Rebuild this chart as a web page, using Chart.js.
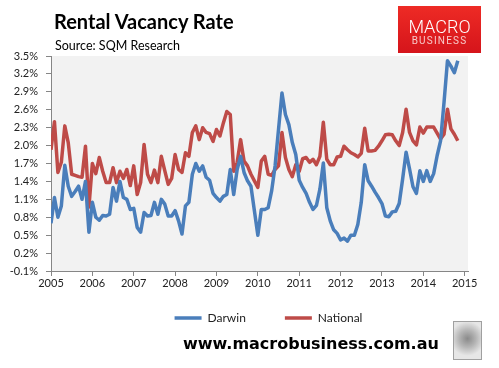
<!DOCTYPE html>
<html>
<head>
<meta charset="utf-8">
<script src="https://cdn.jsdelivr.net/npm/chart.js@4.4.1/dist/chart.umd.min.js"></script>
<style>
  html, body { margin: 0; padding: 0; background: #fff; width: 499px; height: 368px; overflow: hidden; }
  #wrap { position: relative; width: 499px; height: 368px; }
  #chart-box { position: absolute; left: 0; top: 0; width: 499px; height: 368px; }
  .title { position: absolute; left: 54px; top: 9px; font: bold 20px Lato, sans-serif; color: #000; white-space: nowrap; }
  .source { position: absolute; left: 55px; top: 38px; font: 12.5px Lato, sans-serif; color: #000; white-space: nowrap; }
  #logo { position: absolute; left: 398px; top: 6px; width: 83px; height: 47px;
          background: linear-gradient(#ee2b25, #d5141b); text-align: center; }
  #logo .m { position: absolute; left: 0; width: 83px; top: 10px; font: 300 18px Roboto, sans-serif; color: #fff; letter-spacing: 0; }
  #logo .b { position: absolute; left: 0; width: 83px; top: 29px; font: 10px Roboto, sans-serif; color: #f7c9c9; letter-spacing: 1.2px; }
  .url { position: absolute; left: 183px; top: 334px; font: bold 16px "DejaVu Sans", sans-serif; color: #000; white-space: nowrap; }
  #wolf { position: absolute; left: 453px; top: 321px; width: 27px; height: 37px; border: 1px solid #a0a0a0;
          background: radial-gradient(circle at 50% 45%, #8a8a8a 0, #b5b5b5 35%, #e6e6e6 70%); }
</style>
</head>
<body>
<div id="wrap">
  <div id="chart-box"><canvas id="chart"></canvas></div>
  <div class="title">Rental Vacancy Rate</div>
  <div class="source">Source: SQM Research</div>
  <div id="logo"><div class="m">MACRO</div><div class="b">BUSINESS</div></div>
  <div class="url">www.macrobusiness.com.au</div>
  <div id="wolf"></div>
</div>
<script>
// Monthly vacancy rates (%), Jan 2005 onwards.
var startYear = 2005;

var darwin = [
  0.70, 1.13, 0.80, 0.99, 1.67, 1.32, 1.15, 1.23, 1.32, 1.10, 1.40, 0.55,
  1.05, 0.80, 0.75, 0.83, 0.82, 0.85, 1.30, 1.07, 1.40, 1.13, 1.10, 0.93,
  0.95, 0.63, 0.55, 0.88, 0.82, 0.83, 1.05, 0.85, 1.10, 1.02, 0.82, 0.82,
  0.91, 0.74, 0.52, 0.99, 1.05, 1.52, 1.70, 1.57, 1.66, 1.47, 1.42, 1.20,
  1.13, 1.07, 1.15, 1.18, 1.60, 1.18, 1.60, 1.82, 1.55, 1.41, 1.32, 0.91,
  0.50, 0.93, 0.93, 0.96, 1.24, 1.66, 2.27, 2.88, 2.52, 2.35, 2.05, 1.85,
  1.42, 1.30, 1.20, 1.05, 0.93, 1.00, 1.27, 1.71, 0.96, 0.74, 0.59, 0.53,
  0.42, 0.45, 0.40, 0.50, 0.50, 0.68, 1.05, 1.68, 1.41, 1.32, 1.22, 1.13,
  1.03, 0.82, 0.81, 0.89, 0.90, 1.03, 1.44, 1.89, 1.61, 1.31, 1.20, 1.58,
  1.40, 1.58, 1.40, 1.53, 1.83, 2.08, 2.72, 3.42, 3.33, 3.22, 3.42
];

var national = [
  1.93, 2.40, 1.55, 1.72, 2.33, 2.05, 1.52, 1.50, 1.48, 1.47, 1.99, 0.97,
  1.70, 1.53, 1.80, 1.57, 1.38, 1.38, 1.63, 1.38, 1.57, 1.45, 1.60, 1.33,
  1.66, 1.18, 1.38, 2.02, 1.52, 1.38, 1.59, 1.38, 1.82, 1.58, 1.35, 1.45,
  1.85, 1.60, 1.55, 1.88, 1.82, 2.22, 2.33, 2.10, 2.30, 2.22, 2.20, 2.07,
  2.27, 2.16, 2.38, 2.57, 2.52, 1.57, 1.72, 2.10, 1.74, 1.66, 1.52, 1.41,
  1.30, 1.74, 1.82, 1.52, 1.50, 1.60, 1.66, 2.22, 1.80, 1.60, 1.48, 1.68,
  1.57, 1.78, 1.80, 1.72, 1.77, 1.68, 1.82, 2.39, 1.77, 1.68, 1.68, 1.81,
  1.82, 1.99, 1.93, 1.88, 1.85, 1.81, 1.87, 2.29, 1.91, 1.91, 1.92, 1.99,
  2.08, 2.18, 2.19, 2.18, 2.08, 2.00, 2.22, 2.61, 2.22, 2.08, 2.01, 2.31,
  2.21, 2.31, 2.31, 2.31, 2.21, 2.11, 2.19, 2.61, 2.28, 2.19, 2.08
];

var yearTicks = [2005, 2006, 2007, 2008, 2009, 2010, 2011, 2012, 2013, 2014, 2015];
var rateTicks = [-0.1, 0.2, 0.5, 0.8, 1.1, 1.4, 1.7, 2.0, 2.3, 2.6, 2.9, 3.2, 3.5];

var seriesNames = ['Darwin', 'National'];
var seriesColors = ['#4a7ebb', '#be4b48'];

function toPoints(values) {
  return values.map(function (v, i) {
    return { x: startYear + i / 12, y: v };
  });
}

// grey plot-area fill, like the Excel chart
var plotBg = {
  id: 'plotBg',
  beforeDraw: function (chart) {
    var a = chart.chartArea;
    var ctx = chart.ctx;
    ctx.save();
    ctx.fillStyle = '#f2f2f2';
    ctx.fillRect(a.left, a.top, a.right - a.left, a.bottom - a.top);
    ctx.restore();
  }
};

// the wide label padding also pads the legend vertically, so pull it back up
// and a little right, where the original has it
var legendNudge = {
  id: 'legendNudge',
  afterLayout: function (chart) {
    var lg = chart.legend;
    if (!lg) return;
    lg.left += 9;
    lg.right += 9;
    lg.top -= 29;
    lg.bottom -= 29;
  }
};

var axisColor = '#868686';
var tickFont = { family: 'Lato', size: 11 };

new Chart(document.getElementById('chart'), {
  type: 'line',
  data: {
    datasets: [darwin, national].map(function (vals, k) {
      return {
        label: seriesNames[k],
        data: toPoints(vals),
        borderColor: seriesColors[k],
        backgroundColor: seriesColors[k],
        borderWidth: 3.5,
        pointRadius: 0,
        tension: 0,
        borderJoinStyle: 'round'
      };
    })
  },
  options: {
    responsive: true,
    maintainAspectRatio: false,
    animation: false,
    events: [],
    layout: { padding: { top: 56, left: 0, right: 31, bottom: 5 } },
    scales: {
      x: {
        type: 'linear',
        min: 2005,
        max: 2015.08,
        afterBuildTicks: function (axis) {
          axis.ticks = yearTicks.map(function (v) { return { value: v }; });
        },
        afterFit: function (scale) { scale.height = 31; },
        ticks: {
          color: '#222',
          font: tickFont,
          padding: 1,
          maxRotation: 0,
          autoSkip: false,
          callback: function (v) { return String(Math.round(v)); }
        },
        grid: { drawOnChartArea: false, drawTicks: true, tickLength: 5, color: axisColor },
        border: { color: axisColor, width: 1 }
      },
      y: {
        min: -0.1,
        max: 3.5,
        afterBuildTicks: function (axis) {
          axis.ticks = rateTicks.map(function (v) { return { value: v }; });
        },
        afterFit: function (scale) { scale.width = 51; },
        ticks: {
          color: '#222',
          font: tickFont,
          padding: 8,
          callback: function (v) { return v.toFixed(1) + '%'; }
        },
        grid: { drawOnChartArea: false, drawTicks: true, tickLength: 5, color: axisColor },
        border: { color: axisColor, width: 1 }
      }
    },
    plugins: {
      legend: {
        position: 'bottom',
        fullSize: false,
        labels: {
          usePointStyle: true,
          pointStyle: 'line',
          pointStyleWidth: 27,
          color: '#222',
          font: { family: 'Lato', size: 12 },
          padding: 39
        }
      },
      tooltip: { enabled: false },
      title: { display: false }
    }
  },
  plugins: [plotBg, legendNudge]
});
</script>
</body>
</html>
